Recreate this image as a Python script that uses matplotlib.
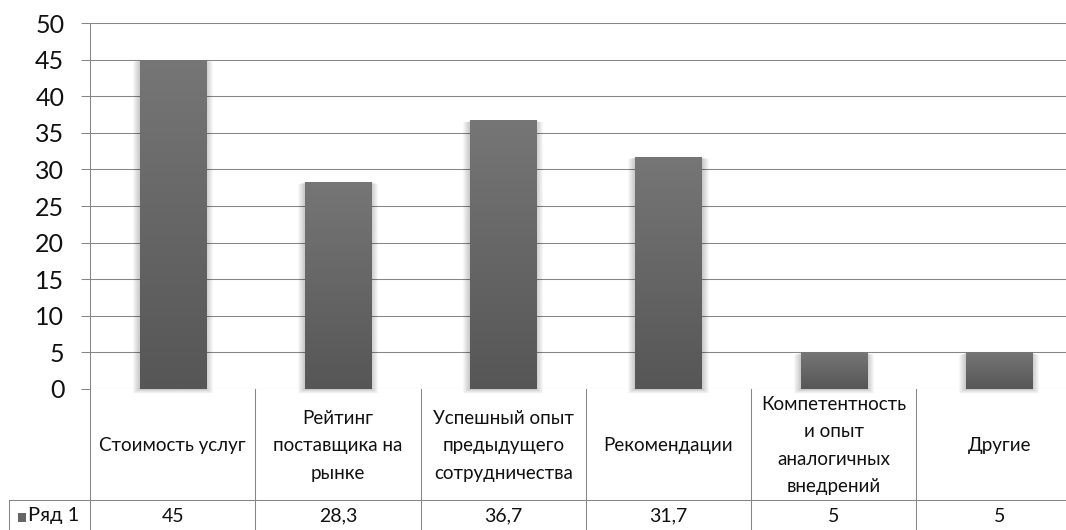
import matplotlib
matplotlib.use("Agg")
import matplotlib.pyplot as plt
import numpy as np
from matplotlib.patches import Rectangle
from matplotlib.colors import LinearSegmentedColormap
from matplotlib.transforms import blended_transform_factory
from matplotlib.lines import Line2D

# --- data ---
categories = [
    "Стоимость услуг",
    "Рейтинг\nпоставщика на\nрынке",
    "Успешный опыт\nпредыдущего\nсотрудничества",
    "Рекомендации",
    "Компетентность\nи опыт\nаналогичных\nвнедрений",
    "Другие",
]
values = [45, 28.3, 36.7, 31.7, 5, 5]
value_labels = ["45", "28,3", "36,7", "31,7", "5", "5"]
series_name = "Ряд 1"
y_ticks = [0, 5, 10, 15, 20, 25, 30, 35, 40, 45, 50]

plt.rcParams["font.family"] = ["Lato", "DejaVu Sans"]

W, H = 1066, 530
fig = plt.figure(figsize=(W / 100, H / 100), dpi=100)
fig.patch.set_facecolor("white")

# plot area: left edge at x=90 px, zero line at y=389 px, top gridline at y=23 px
ax_left, ax_bottom, ax_top, cat_w = 90, 389, 23, 165.3
n = len(categories)
ax = fig.add_axes([ax_left / W, (H - ax_bottom) / H,
                   n * cat_w / W, (ax_bottom - ax_top) / H])
ax.set_xlim(0, n)
ax.set_ylim(0, 50)

grid_c = "#868686"
lw = 0.75

ax.set_yticks(y_ticks)
ax.set_yticklabels([str(t) for t in y_ticks], fontsize=18, color="#111111")
ax.tick_params(axis="y", length=6.5, width=lw, color=grid_c, pad=12)
ax.set_xticks([])
ax.yaxis.grid(True, color=grid_c, linewidth=lw)
ax.set_axisbelow(True)
for s in ["top", "right", "bottom"]:
    ax.spines[s].set_visible(False)
ax.spines["left"].set_color(grid_c)
ax.spines["left"].set_linewidth(lw)

# bars with vertical gradient and a soft shadow
px_x = 1.0 / cat_w           # one pixel in x data units
px_y = 50.0 / (ax_bottom - ax_top)  # one pixel in y data units
bar_w = 0.4
cmap = LinearSegmentedColormap.from_list("barfill", ["#565656", "#767676"])
grad = np.linspace(0, 1, 256).reshape(-1, 1)
for i, v in enumerate(values):
    x0 = i + 0.5 - bar_w / 2
    for k in range(1, 8):
        ax.add_patch(Rectangle((x0 - k * px_x, -k * px_y * 0.6),
                               bar_w + 2 * k * px_x, v + k * px_y * 0.3,
                               facecolor="black", edgecolor="none",
                               alpha=0.03, zorder=1.5, clip_on=False))
    bar = Rectangle((x0, 0), bar_w, v, facecolor="none", edgecolor="none", zorder=2)
    ax.add_patch(bar)
    im = ax.imshow(grad, extent=(x0, x0 + bar_w, 0, v), origin="lower",
                   aspect="auto", cmap=cmap, zorder=2, interpolation="bilinear")
    im.set_clip_path(bar)
ax.set_xlim(0, n)
ax.set_ylim(0, 50)

# data table below the plot area
tr = blended_transform_factory(ax.transData, fig.transFigure)
fy = lambda py: (H - py) / H
row_top = 500
for b in range(0, n + 1):
    fig.add_artist(Line2D([b, b], [fy(ax_bottom), fy(H + 5)], transform=tr,
                          color=grid_c, linewidth=lw, clip_on=False))
fig.add_artist(Line2D([9 / W, 1.0], [fy(row_top), fy(row_top)],
                      transform=fig.transFigure, color=grid_c, linewidth=lw))
fig.add_artist(Line2D([9 / W, 9 / W], [fy(row_top), fy(H + 5)],
                      transform=fig.transFigure, color=grid_c, linewidth=lw))

for i, (cat, lab) in enumerate(zip(categories, value_labels)):
    fig.text(i + 0.5, fy((ax_bottom + row_top) / 2 + 1), cat, transform=tr,
             ha="center", va="center", fontsize=13.5, linespacing=1.75,
             color="#111111")
    fig.text(i + 0.5, fy(516), lab, transform=tr, ha="center", va="center",
             fontsize=14, color="#111111")

# series key in the value row
fig.add_artist(Rectangle((18 / W, fy(522)), 8 / W, 9 / H,
                         transform=fig.transFigure, facecolor="#666666",
                         edgecolor="none"))
fig.text(28 / W, fy(516), series_name, ha="left", va="center",
         fontsize=14.5, color="#111111")

fig.savefig("out.png", dpi=100, facecolor="white")
